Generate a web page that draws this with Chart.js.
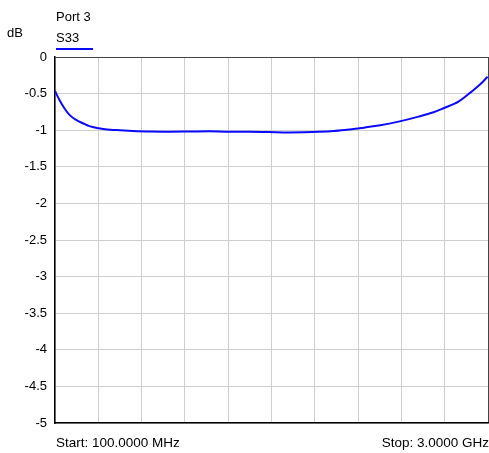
<!DOCTYPE html>
<html>
<head>
<meta charset="utf-8">
<script src="https://cdn.jsdelivr.net/npm/chart.js@4.4.0/dist/chart.umd.min.js"></script>
<style>
  html, body { margin: 0; padding: 0; background: #fff; }
  #wrap { width: 489px; height: 453px; position: relative; }
</style>
</head>
<body>
<div id="wrap"><canvas id="myChart"></canvas></div>
<script>
// frequency (MHz) and S33 (dB)
var freqMHz = [100, 130, 163, 197, 242, 286, 330, 393, 450, 509, 620, 731, 865, 999,
  1132, 1266, 1400, 1533, 1667, 1767, 1867, 1968, 2068, 2130, 2168, 2268, 2401,
  2535, 2635, 2702, 2802, 2890, 2950, 2997];
var s33 = [-0.465, -0.587, -0.70, -0.79, -0.86, -0.905, -0.945, -0.973, -0.99, -0.998,
  -1.01, -1.018, -1.02, -1.018, -1.015, -1.022, -1.02, -1.025, -1.03, -1.028,
  -1.022, -1.01, -0.99, -0.977, -0.965, -0.935, -0.883, -0.815, -0.755, -0.70,
  -0.61, -0.473, -0.37, -0.27];

// axes
var yTicks = [0, -0.5, -1, -1.5, -2, -2.5, -3, -3.5, -4, -4.5, -5];
var yTickLabels = ['0', '-0.5', '-1', '-1.5', '-2', '-2.5', '-3', '-3.5', '-4', '-4.5', '-5'];
var xStart = 100, xStop = 3000, xStep = 290;

// texts
var titleText = 'Port 3';
var seriesName = 'S33';
var unitText = 'dB';
var startText = 'Start: 100.0000 MHz';
var stopText = 'Stop: 3.0000 GHz';

var FONT = '"Liberation Sans", Arial, sans-serif';
var BLUE = '#0a0aff';

var points = freqMHz.map(function (f, i) { return { x: f, y: s33[i] }; });

/*---------------labels around the plot-------------------------- */
var labelsPlugin = {
  id: 'labels',
  afterDraw: function (chart) {
    var c = chart.ctx;
    c.save();
    c.fillStyle = '#000';
    c.font = '13px ' + FONT;
    c.textBaseline = 'alphabetic';
    c.textAlign = 'left';
    c.fillText(titleText, 56, 21);
    c.fillText(seriesName, 56, 42);
    c.fillText(unitText, 7, 37);
    c.font = '13.5px ' + FONT;
    c.fillText(startText, 56, 446.5);
    c.textAlign = 'right';
    c.fillText(stopText, 489, 446.5);
    // legend swatch
    c.strokeStyle = BLUE;
    c.lineWidth = 2;
    c.beginPath();
    c.moveTo(56, 49);
    c.lineTo(93, 49);
    c.stroke();
    c.restore();
  }
};

var ctx = document.getElementById('myChart').getContext('2d');
var chart = new Chart(ctx, {
  type: 'line',
  data: {
    datasets: [{
      label: seriesName,
      data: points,
      borderColor: BLUE,
      borderWidth: 2,
      pointRadius: 0,
      cubicInterpolationMode: 'monotone',
      fill: false
    }]
  },
  options: {
    responsive: true,
    maintainAspectRatio: false,
    animation: false,
    layout: { padding: { top: 57, right: 1, left: 0, bottom: 0 } },
    plugins: {
      legend: { display: false },
      tooltip: { enabled: false }
    },
    scales: {
      x: {
        type: 'linear',
        min: xStart,
        max: xStop,
        afterFit: function (s) { s.height = 30; },
        ticks: { display: false, stepSize: xStep },
        grid: {
          drawTicks: false,
          lineWidth: 1,
          color: function (c) { return c.tick && c.tick.value === xStop ? '#444' : '#cfcfcf'; }
        },
        border: { display: true, color: '#000', width: 1.5 }
      },
      y: {
        min: -5,
        max: 0,
        afterFit: function (s) { s.width = 55; },
        afterBuildTicks: function (s) { s.ticks = yTicks.map(function (v) { return { value: v }; }); },
        ticks: {
          color: '#000',
          padding: 8,
          font: { family: FONT, size: 13 },
          callback: function (v) { return yTickLabels[yTicks.indexOf(v)]; }
        },
        grid: {
          drawTicks: false,
          lineWidth: 1,
          color: function (c) { return c.tick && c.tick.value === 0 ? '#444' : '#cfcfcf'; }
        },
        border: { display: true, color: '#000', width: 1.5 }
      }
    }
  },
  plugins: [labelsPlugin]
});
</script>
</body>
</html>
